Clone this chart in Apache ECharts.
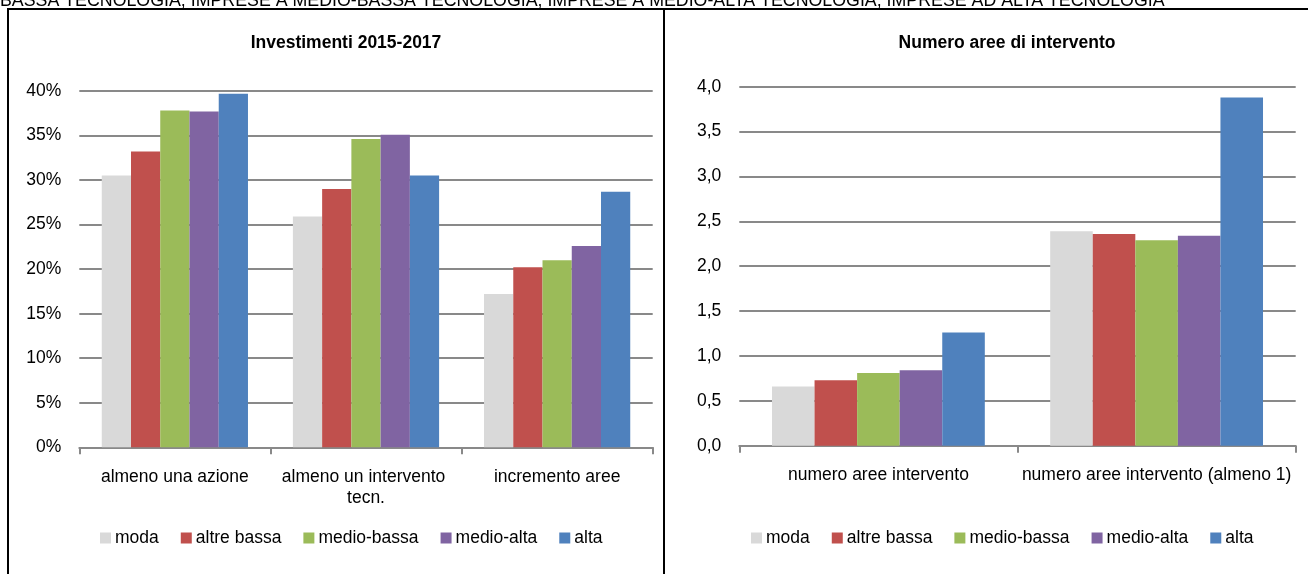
<!DOCTYPE html>
<html>
<head>
<meta charset="utf-8">
<script src="https://cdn.jsdelivr.net/npm/echarts@6/dist/echarts.min.js"></script>
<style>
  html, body { margin: 0; padding: 0; background: #fff; }
  #chart { width: 1308px; height: 574px; }
</style>
</head>
<body>
<div id="chart"></div>
<script>
// Classes of firms by technology level
const seriesNames = ['moda', 'altre bassa', 'medio-bassa', 'medio-alta', 'alta'];
const seriesColors = ['#D9D9D9', '#C0504D', '#9BBB59', '#8064A2', '#4F81BD'];

// Left panel: share of firms investing 2015-2017 (%)
const leftCategories = ['almeno una azione', 'almeno un intervento tecn.', 'incremento aree'];
const leftModa       = [30.5, 25.9, 17.2];
const leftAltreBassa = [33.2, 29.0, 20.2];
const leftMedioBassa = [37.8, 34.6, 21.0];
const leftMedioAlta  = [37.7, 35.1, 22.6];
const leftAlta       = [39.7, 30.5, 28.7];

// Right panel: number of intervention areas
const rightCategories = ['numero aree intervento', 'numero aree intervento (almeno 1)'];
const rightModa       = [0.66, 2.39];
const rightAltreBassa = [0.73, 2.36];
const rightMedioBassa = [0.81, 2.29];
const rightMedioAlta  = [0.84, 2.34];
const rightAlta       = [1.26, 3.88];

const headerText = 'BASSA TECNOLOGIA, IMPRESE A MEDIO-BASSA TECNOLOGIA, IMPRESE A MEDIO-ALTA TECNOLOGIA, IMPRESE AD ALTA TECNOLOGIA';

const FONT = '"Liberation Sans", Arial, sans-serif';
const FS = 17.5;
const GRID_GRAY = '#898989';

const leftData = [leftModa, leftAltreBassa, leftMedioBassa, leftMedioAlta, leftAlta];
const rightData = [rightModa, rightAltreBassa, rightMedioBassa, rightMedioAlta, rightAlta];

function barSeries(dataSets, axisIndex) {
  return seriesNames.map((name, i) => ({
    name: name,
    type: 'bar',
    xAxisIndex: axisIndex,
    yAxisIndex: axisIndex,
    data: dataSets[i],
    barGap: '0%',
    barCategoryGap: '23.5%',
    itemStyle: { color: seriesColors[i] },
    emphasis: { disabled: true }
  }));
}

function catAxis(gridIndex, cats, labelWidth) {
  return {
    type: 'category',
    gridIndex: gridIndex,
    data: cats,
    axisLine: { lineStyle: { color: GRID_GRAY, width: 2 } },
    axisTick: { show: true, length: 7, lineStyle: { color: GRID_GRAY, width: 2 } },
    axisLabel: {
      interval: 0,
      color: '#000', fontFamily: FONT, fontSize: FS, margin: 19,
      width: labelWidth, overflow: 'break', lineHeight: 21
    }
  };
}

function valAxis(gridIndex, max, interval, fmt) {
  return {
    type: 'value',
    gridIndex: gridIndex,
    min: 0, max: max, interval: interval,
    axisLine: { show: false },
    axisTick: { show: false },
    splitLine: { lineStyle: { color: GRID_GRAY, width: 2 } },
    axisLabel: { color: '#000', fontFamily: FONT, fontSize: FS, margin: 18, formatter: fmt }
  };
}

const legendCommon = {
  itemWidth: 11, itemHeight: 11, itemGap: 22, icon: 'rect', padding: 0,
  textStyle: { color: '#000', fontFamily: FONT, fontSize: FS, padding: [0, 0, 0, -1] },
  selectedMode: false
};

const chart = echarts.init(document.getElementById('chart'), null, { renderer: 'canvas' });
chart.setOption({
  animation: false,
  backgroundColor: '#fff',
  title: [
    { text: 'Investimenti 2015-2017', left: 341, top: 29, textAlign: 'center',
      textStyle: { fontFamily: FONT, fontSize: FS, fontWeight: 'bold', color: '#000' } },
    { text: 'Numero aree di intervento', left: 1002, top: 29, textAlign: 'center',
      textStyle: { fontFamily: FONT, fontSize: FS, fontWeight: 'bold', color: '#000' } }
  ],
  legend: [
    Object.assign({ data: seriesNames, left: 100, top: 529 }, legendCommon, { id: 'l0' }),
    Object.assign({ data: seriesNames, left: 751, top: 529 }, legendCommon, { id: 'l1' })
  ],
  grid: [
    { left: 79.3, right: 1308 - 652.7, top: 91, bottom: 574 - 447.3 },
    { left: 739.3, right: 1308 - 1295.7, top: 86.7, bottom: 574 - 445.7 }
  ],
  xAxis: [
    catAxis(0, leftCategories, 180),
    catAxis(1, rightCategories, 290)
  ],
  yAxis: [
    valAxis(0, 40, 5, v => v + '%'),
    valAxis(1, 4, 0.5, v => v.toFixed(1).replace('.', ','))
  ],
  series: barSeries(leftData, 0).concat(barSeries(rightData, 1)),
  graphic: [
    { type: 'text', left: 0, top: -8,
      style: { text: headerText, fontFamily: FONT, fontSize: 17.8, fill: '#000' } },
    { type: 'line', shape: { x1: 7, y1: 9, x2: 1308, y2: 9 }, style: { stroke: '#000', lineWidth: 2 } },
    { type: 'line', shape: { x1: 8, y1: 9, x2: 8, y2: 574 }, style: { stroke: '#000', lineWidth: 2 } },
    { type: 'line', shape: { x1: 664, y1: 9, x2: 664, y2: 574 }, style: { stroke: '#000', lineWidth: 2 } }
  ]
});
</script>
</body>
</html>
